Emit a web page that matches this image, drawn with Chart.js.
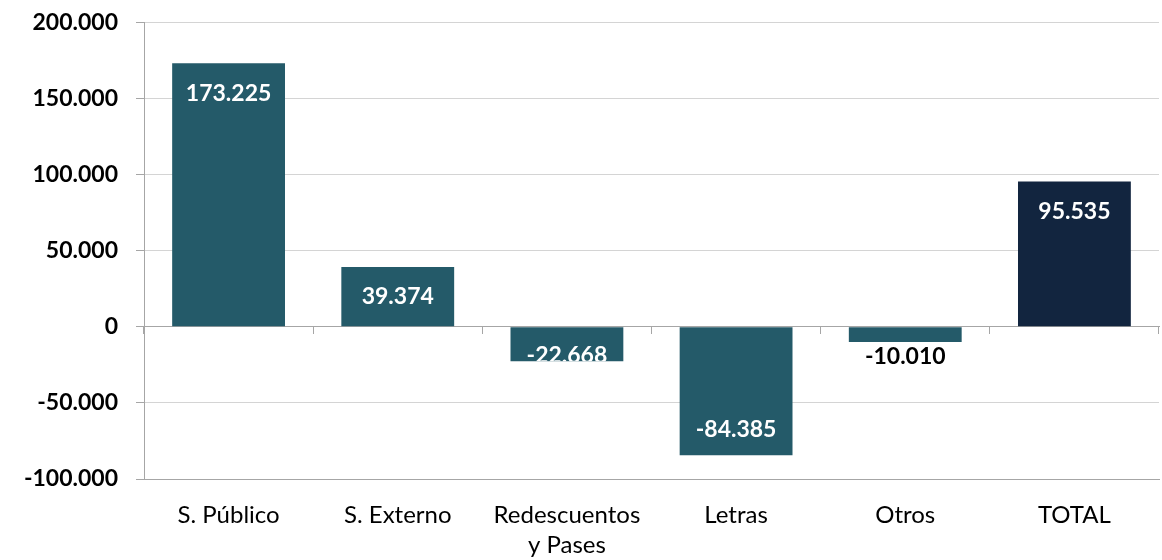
<!DOCTYPE html>
<html><head><meta charset="utf-8">
<script src="https://cdn.jsdelivr.net/npm/chart.js@4"></script>
<style>html,body{margin:0;padding:0;background:#fff}#wrap{width:1162px;height:560px}</style>
</head><body><div id="wrap"><canvas id="c" width="1162" height="560"></canvas></div>
<script>
const categories = ['S. Público', 'S. Externo', ['Redescuentos', 'y Pases'], 'Letras', 'Otros', 'TOTAL'];
const values = [173225, 39374, -22668, -84385, -10010, 95535];
const yTicks = [-100000, -50000, 0, 50000, 100000, 150000, 200000];

const barColors = ['#245A69', '#245A69', '#245A69', '#245A69', '#245A69', '#12253F'];
const labelColors = ['#FFFFFF', '#FFFFFF', '#FFFFFF', '#FFFFFF', '#000000', '#FFFFFF'];
// label offset (px) measured from the bar's outer end; positive = toward zero
const labelOffsets = [30, 30, 6, 25.5, -15, 30];
const labelClip = [false, false, true, false, false, false];

const FONT = 'Lato';
function fmt(v) {
  const s = Math.abs(Math.round(v)).toString().replace(/\B(?=(\d{3})+(?!\d))/g, '.');
  return (v < 0 ? '-' : '') + s;
}

const labelPlugin = {
  id: 'barLabels',
  afterDatasetsDraw(chart) {
    const ctx = chart.ctx;
    const meta = chart.getDatasetMeta(0);
    meta.data.forEach((bar, i) => {
      const v = values[i];
      const top = Math.min(bar.y, bar.base), bottom = Math.max(bar.y, bar.base);
      const y = v >= 0 ? bar.y + labelOffsets[i] : bar.y - labelOffsets[i];
      ctx.save();
      if (labelClip[i]) {
        ctx.beginPath();
        ctx.rect(bar.x - bar.width / 2, top, bar.width, bottom - top);
        ctx.clip();
      }
      ctx.font = 'bold 23px ' + FONT;
      ctx.fillStyle = labelColors[i];
      ctx.textAlign = 'center';
      ctx.textBaseline = 'middle';
      ctx.fillText(fmt(v), bar.x, y);
      ctx.restore();
    });
  }
};

new Chart(document.getElementById('c'), {
  type: 'bar',
  data: {
    labels: categories,
    datasets: [{
      data: values,
      backgroundColor: barColors,
      borderWidth: 0,
      barPercentage: 0.667,
      categoryPercentage: 1.0,
      xAxisID: 'x'
    }]
  },
  options: {
    responsive: false,
    animation: false,
    layout: { padding: { top: 22.5, right: 3, left: 0, bottom: 0 } },
    plugins: { legend: { display: false }, tooltip: { enabled: false } },
    scales: {
      x: {
        type: 'category',
        position: 'bottom',
        offset: true,
        grid: { display: false },
        border: { display: true, color: '#A6A6A6', width: 1 },
        ticks: { color: '#000', font: { family: FONT, size: 24, lineHeight: 1.22 }, padding: 14, maxRotation: 0, autoSkip: false },
        afterFit(s) { s.height = 81; }
      },
      x2: {
        type: 'category',
        position: { y: 0 },
        offset: true,
        grid: { offset: true, drawOnChartArea: false, drawTicks: true, tickLength: 7, color: '#A6A6A6' },
        border: { display: true, color: '#A6A6A6', width: 1 },
        ticks: { display: false }
      },
      y: {
        min: -100000, max: 200000,
        afterBuildTicks(s) { s.ticks = yTicks.map(v => ({ value: v })); },
        grid: { color: '#D4D4D4', tickColor: '#A6A6A6', tickLength: 8 },
        border: { display: true, color: '#A6A6A6', width: 1 },
        ticks: { color: '#000', font: { family: FONT, size: 23, weight: 'bold' }, padding: 18, callback: v => fmt(v) },
        afterFit(s) { s.width = 144; s.paddingTop = 0; s.paddingBottom = 0; }
      }
    }
  },
  plugins: [labelPlugin]
});
</script></body></html>
